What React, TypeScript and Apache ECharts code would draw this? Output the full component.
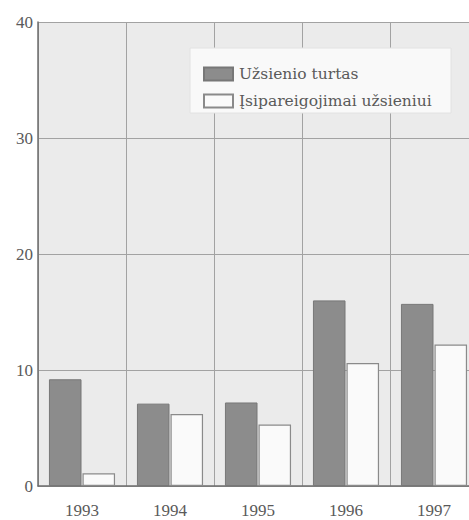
import React, { useEffect, useRef } from "react";
import * as echarts from "echarts";

const years = ["1993", "1994", "1995", "1996", "1997"];
const assetsAbroad = [9.2, 7.1, 7.2, 16.0, 15.7];
const liabilitiesAbroad = [1.1, 6.2, 5.3, 10.6, 12.2];
const seriesNames = ["Užsienio turtas", "Įsipareigojimai užsieniui"];
const yTicks = [0, 10, 20, 30, 40];

const axisFont = "Liberation Serif";
const legendFont = "DejaVu Serif";

export default function App() {
  const ref = useRef<HTMLDivElement>(null);

  useEffect(() => {
    if (!ref.current) return;
    const chart = echarts.init(ref.current, null, { renderer: "svg" });
    chart.setOption({
      animation: false,
      backgroundColor: "#ffffff",
      grid: {
        left: 38,
        width: 440,
        top: 22,
        bottom: 34,
        outerBoundsMode: "none",
        containLabel: false,
        show: true,
        backgroundColor: "#ebebeb",
        borderWidth: 0,
      },
      graphic: [
        {
          type: "rect",
          z: 3,
          shape: { x: 190, y: 48, width: 261, height: 65 },
          style: { fill: "#f9f9f9", stroke: "#e2e2e2", lineWidth: 1 },
        },
      ],
      legend: {
        z: 4,
        orient: "vertical",
        left: 203,
        top: 66,
        padding: 0,
        itemWidth: 29,
        itemHeight: 13,
        itemGap: 11,
        icon: "rect",
        data: seriesNames,
        textStyle: { fontFamily: legendFont, fontSize: 15.5, color: "#5a5a5a", padding: [0, 0, 0, 1] },
      },
      xAxis: {
        type: "category",
        data: years,
        boundaryGap: true,
        axisLine: { show: true, lineStyle: { color: "#6e6e6e", width: 1.5 } },
        axisTick: { show: false },
        axisLabel: { fontFamily: axisFont, fontSize: 17, color: "#5a5a5a", margin: 16 },
        splitLine: { show: true, interval: 0, lineStyle: { color: "#a2a2a2", width: 1 } },
      },
      yAxis: {
        type: "value",
        min: yTicks[0],
        max: yTicks[yTicks.length - 1],
        interval: 10,
        axisLine: { show: true, lineStyle: { color: "#6e6e6e", width: 1.5 } },
        axisTick: { show: false },
        axisLabel: { fontFamily: axisFont, fontSize: 17, color: "#5a5a5a", margin: 5 },
        splitLine: { show: true, lineStyle: { color: "#a2a2a2", width: 1 } },
      },
      series: [
        {
          name: seriesNames[0],
          type: "bar",
          data: assetsAbroad,
          barWidth: "37%",
          barGap: "3%",
          itemStyle: { color: "#8c8c8c", borderColor: "#777777", borderWidth: 1 },
        },
        {
          name: seriesNames[1],
          type: "bar",
          data: liabilitiesAbroad,
          barWidth: "37%",
          itemStyle: { color: "#fafafa", borderColor: "#8a8a8a", borderWidth: 1.2 },
        },
      ],
    });
    return () => chart.dispose();
  }, []);

  return (
    <div
      ref={ref}
      style={{ position: "fixed", left: 0, top: 0, width: 469, height: 520 }}
    />
  );
}
